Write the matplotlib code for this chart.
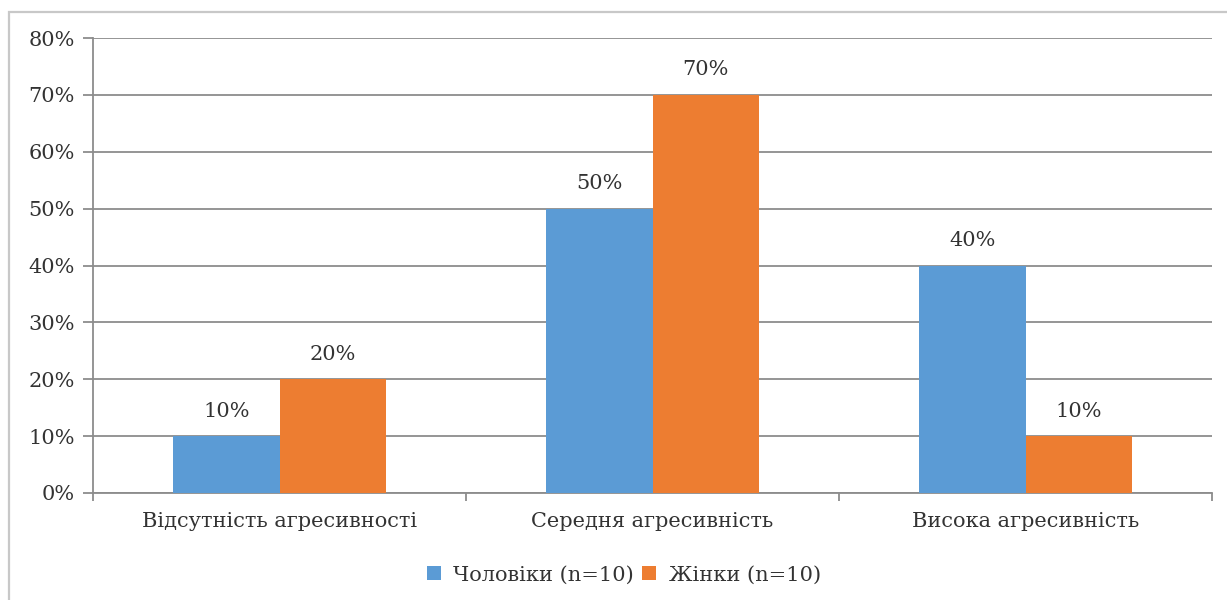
import numpy as np
import matplotlib.pyplot as plt
from matplotlib.patches import Rectangle

categories = ["Відсутність агресивності", "Середня агресивність", "Висока агресивність"]
men = [10, 50, 40]
women = [20, 70, 10]
series_names = ["Чоловіки (n=10)", "Жінки (n=10)"]
colors = ["#5B9BD5", "#ED7D31"]

plt.rcParams['font.family'] = ['DejaVu Serif']
FS = 15
TXT = "#333333"

W, H = 1227, 600
fig = plt.figure(figsize=(W / 100, H / 100), dpi=100)

# outer chart frame
fig.patches.append(Rectangle((9 / W, -0.1), 1.2, 1 - 12 / H + 0.1, transform=fig.transFigure,
                             fill=False, edgecolor="#c8c8c8", linewidth=1.6))

ax = fig.add_axes([93 / W, 1 - 493 / H, (1212 - 93) / W, (493 - 38) / H])

x = np.arange(len(categories))
bw = 0.285
b1 = ax.bar(x - bw / 2, men, bw, color=colors[0], label=series_names[0], zorder=3)
b2 = ax.bar(x + bw / 2, women, bw, color=colors[1], label=series_names[1], zorder=3)

for bars, vals in ((b1, men), (b2, women)):
    for r, v in zip(bars, vals):
        ax.annotate(f"{v}%", (r.get_x() + r.get_width() / 2, v), xytext=(0, 18),
                    textcoords="offset points", ha="center", va="center",
                    fontsize=FS, color=TXT)

ax.set_ylim(0, 80)
ax.set_xlim(-0.5, 2.5)
ax.set_yticks(range(0, 81, 10))
ax.set_yticklabels([f"{v}%" for v in range(0, 81, 10)])
ax.yaxis.grid(True, color="#8c8c8c", linewidth=1.3, zorder=0)

ax.set_xticks([-0.5, 0.5, 1.5, 2.5])
ax.set_xticklabels([])
ax.set_xticks(x, minor=True)
ax.set_xticklabels(categories, minor=True)
ax.tick_params(axis="x", which="minor", length=0, pad=14, labelsize=FS, labelcolor=TXT)
ax.tick_params(axis="x", which="major", length=6, color="#8c8c8c", width=1.3)
ax.tick_params(axis="y", length=7, color="#8c8c8c", width=1.3, labelsize=FS,
               labelcolor=TXT, pad=6)

for s in ("top", "right"):
    ax.spines[s].set_visible(False)
for s in ("left", "bottom"):
    ax.spines[s].set_color("#8c8c8c")
    ax.spines[s].set_linewidth(1.3)

fig.legend(loc="center", bbox_to_anchor=(624 / W, 1 - 575 / H), ncol=2, frameon=False,
           fontsize=FS, handlelength=0.65, handleheight=0.65, handletextpad=0.6,
           columnspacing=0.4, labelcolor=TXT)

fig.savefig("out.png", dpi=100)
